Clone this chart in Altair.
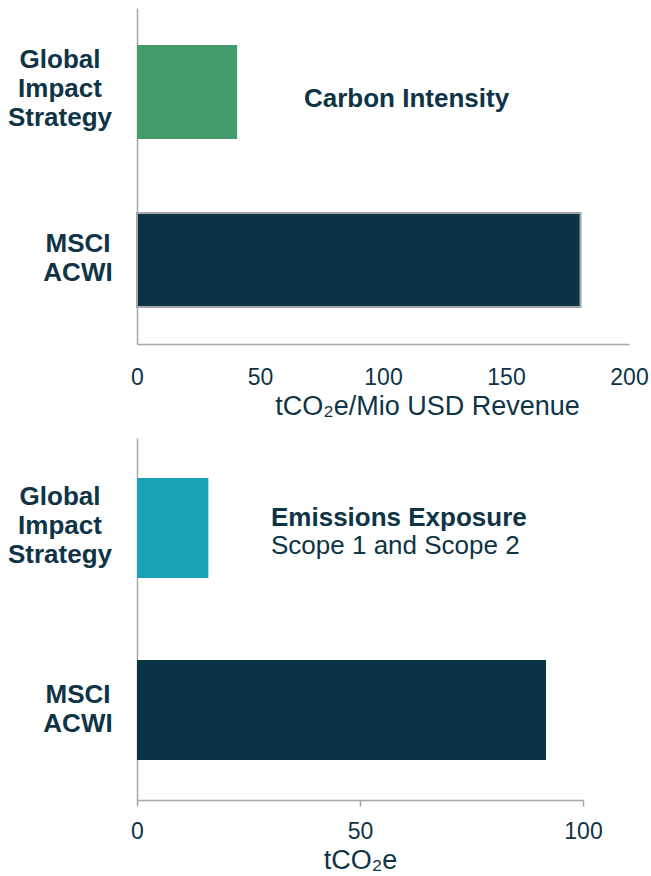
import altair as alt
import pandas as pd

# ---- data ----
categories = ["Global Impact Strategy", "MSCI ACWI"]
carbon_intensity = [40.7, 180.3]
emissions_exposure = [16.0, 91.7]
carbon_ticks = [0, 50, 100, 150, 200]
emissions_ticks = [0, 50, 100]
carbon_axis_title = "tCO₂e/Mio USD Revenue"
emissions_axis_title = "tCO₂e"
carbon_heading = ["Carbon Intensity"]
emissions_heading = ["Emissions Exposure"]
emissions_subheading = ["Scope 1 and Scope 2"]

NAVY = "#0B3346"
TEXT = "#0E3446"
GREEN = "#459C6B"
TEAL = "#17A3B4"
GREY = "#A6A6A6"
FONT = "Liberation Sans"


def make_df(values):
    return pd.DataFrame({
        "category": categories,
        "value": values,
        "label": [c.replace(" ", "\n") for c in categories],
    })


def cat_labels(df, y_enc, xoffs, dys):
    layers = []
    for cat, xo, dy in zip(categories, xoffs, dys):
        layers.append(
            alt.Chart(df).transform_filter(alt.datum.category == cat)
            .mark_text(font=FONT, fontSize=26, fontWeight="bold", color=TEXT,
                       align="center", baseline="middle", lineBreak="\n",
                       lineHeight=29, dy=dy)
            .encode(y=y_enc, text="label:N", x=alt.value(xo))
        )
    return layers


# ---- top panel: carbon intensity ----
df1 = make_df(carbon_intensity)
y1 = alt.Y("category:N", sort=categories,
           scale=alt.Scale(paddingInner=0.44, paddingOuter=0.22),
           axis=alt.Axis(labels=False, ticks=False, title=None, grid=False,
                         domainColor=GREY, domainWidth=1.5))
x1 = alt.X("value:Q",
           scale=alt.Scale(domain=[0, 200], nice=False, zero=True),
           axis=alt.Axis(values=carbon_ticks, grid=False, ticks=False, tickSize=0,
                         domainColor=GREY, domainWidth=1.5,
                         labelFont=FONT, labelFontSize=23, labelColor=TEXT,
                         labelPadding=22, labelFlush=False,
                         title=carbon_axis_title, titleFont=FONT, titleFontSize=27,
                         titleFontWeight="normal", titleColor=TEXT,
                         titleX=290, titleY=70.5, titleAlign="center",
                         titleBaseline="alphabetic"))
bars1 = alt.Chart(df1).mark_bar(stroke=GREY).encode(
    x=x1, y=y1,
    color=alt.Color("category:N", scale=alt.Scale(domain=categories, range=[GREEN, NAVY]), legend=None),
    strokeWidth=alt.condition(alt.datum.category == categories[1], alt.value(2), alt.value(0)),
)
ann1 = alt.Chart(pd.DataFrame({"t": carbon_heading})).mark_text(
    font=FONT, fontSize=26, fontWeight="bold", color=TEXT, align="left", baseline="alphabetic"
).encode(text="t:N", x=alt.value(167), y=alt.value(98.7))

top = alt.layer(
    bars1,
    *cat_labels(df1, alt.Y("category:N", sort=categories), [-77, -59], [-32, -16]),
    ann1,
).properties(width=492, height=336)

# ---- bottom panel: emissions exposure ----
df2 = make_df(emissions_exposure)
y2 = alt.Y("category:N", sort=categories,
           scale=alt.Scale(paddingInner=0.45, paddingOuter=0.22),
           axis=alt.Axis(labels=False, ticks=False, title=None, grid=False,
                         domainColor=GREY, domainWidth=1.5))
x2 = alt.X("value:Q",
           scale=alt.Scale(domain=[0, 100], nice=False, zero=True),
           axis=alt.Axis(values=emissions_ticks, grid=False, ticks=True, tickSize=6,
                         tickColor=GREY, tickWidth=1.5,
                         domainColor=GREY, domainWidth=1.5,
                         labelFont=FONT, labelFontSize=23, labelColor=TEXT,
                         labelPadding=14, labelFlush=False,
                         title=emissions_axis_title, titleFont=FONT, titleFontSize=27,
                         titleFontWeight="normal", titleColor=TEXT,
                         titleY=68, titleBaseline="alphabetic"))
bars2 = alt.Chart(df2).mark_bar().encode(
    x=x2, y=y2,
    color=alt.Color("category:N", scale=alt.Scale(domain=categories, range=[TEAL, NAVY]), legend=None),
)
ann2 = alt.Chart(pd.DataFrame({"t": emissions_heading})).mark_text(
    font=FONT, fontSize=26, fontWeight="bold", color=TEXT, align="left", baseline="alphabetic"
).encode(text="t:N", x=alt.value(134), y=alt.value(88))
ann3 = alt.Chart(pd.DataFrame({"t": emissions_subheading})).mark_text(
    font=FONT, fontSize=26, fontWeight="normal", color=TEXT, align="left", baseline="alphabetic"
).encode(text="t:N", x=alt.value(134), y=alt.value(116))

bottom = alt.layer(
    bars2,
    *cat_labels(df2, alt.Y("category:N", sort=categories), [-77, -59], [-31, -15]),
    ann2, ann3,
).properties(width=446, height=362)

chart = alt.vconcat(top, bottom, spacing=18).properties(
    padding={"left": 7, "top": 8, "right": 2, "bottom": 0},
    background="white",
).configure_view(stroke=None).resolve_scale(color="independent", x="independent", y="independent")

chart.save("out.html", embed_options={"renderer": "svg", "actions": False})
